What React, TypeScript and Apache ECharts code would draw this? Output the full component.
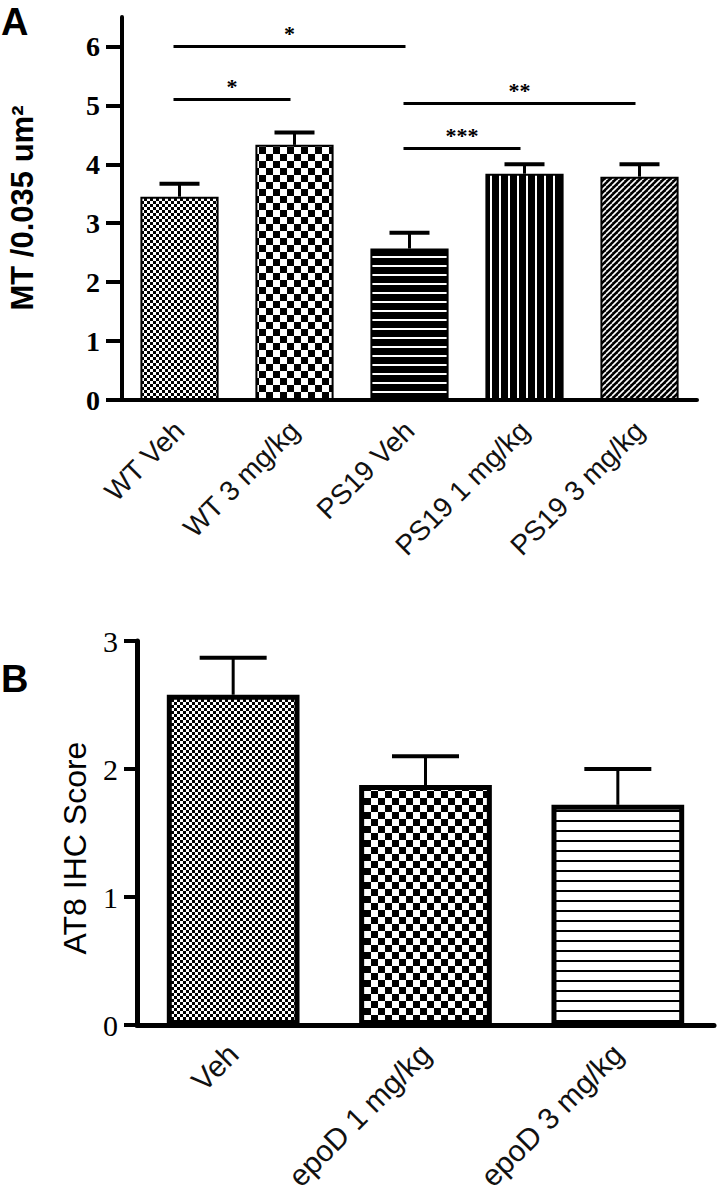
import React, { useEffect, useRef } from 'react';
import * as echarts from 'echarts';

// ---- Panel A data ----
const catsA = ['WT Veh', 'WT 3 mg/kg', 'PS19 Veh', 'PS19 1 mg/kg', 'PS19 3 mg/kg'];
const meansA = [3.45, 4.33, 2.57, 3.84, 3.79];
const semA = [0.22, 0.21, 0.27, 0.16, 0.21];
const ticksA = [0, 1, 2, 3, 4, 5, 6];
const sigFrom = [0, 0, 2, 2];
const sigTo = [1, 2, 3, 4];
const sigLevel = [5.1, 6.0, 4.27, 5.03];
const sigText = ['*', '*', '***', '**'];

// ---- Panel B data ----
const catsB = ['Veh', 'epoD 1 mg/kg', 'epoD 3 mg/kg'];
const meansB = [2.58, 1.875, 1.72];
const semB = [0.29, 0.225, 0.28];
const ticksB = [0, 1, 2, 3];

function makePattern(w: number, h: number, bg: string, draw: (ctx: CanvasRenderingContext2D) => void) {
  const c = document.createElement('canvas');
  c.width = w;
  c.height = h;
  const ctx = c.getContext('2d') as CanvasRenderingContext2D;
  ctx.fillStyle = bg;
  ctx.fillRect(0, 0, w, h);
  ctx.fillStyle = '#000';
  ctx.strokeStyle = bg === '#000' ? '#fff' : '#000';
  draw(ctx);
  return { image: c, repeat: 'repeat', imageWidth: w, imageHeight: h } as any;
}

export default function App() {
  const ref = useRef<HTMLDivElement>(null);
  useEffect(() => {
    if (!ref.current) return;
    const chart = echarts.init(ref.current, null as any, { renderer: 'svg' });

    const fine = makePattern(6, 6, '#fff', (ctx) => {
      ctx.fillRect(0, 0, 3, 3);
      ctx.fillRect(3, 3, 3, 3);
    });
    const checker = makePattern(14, 14, '#fff', (ctx) => {
      ctx.fillRect(0, 0, 7, 7);
      ctx.fillRect(7, 7, 7, 7);
    });
    const hWhite = makePattern(4, 9, '#000', (ctx) => {
      ctx.fillStyle = '#fff';
      ctx.fillRect(0, 4, 4, 2);
    });
    const vWhite = makePattern(9, 4, '#000', (ctx) => {
      ctx.fillStyle = '#fff';
      ctx.fillRect(4, 0, 2, 4);
    });
    const diag = makePattern(6, 6, '#000', (ctx) => {
      ctx.lineWidth = 1.6;
      for (const k of [-6, 0, 6]) {
        ctx.beginPath();
        ctx.moveTo(k, 6);
        ctx.lineTo(k + 6, 0);
        ctx.stroke();
      }
    });
    const hBlack = makePattern(4, 10, '#fff', (ctx) => {
      ctx.fillRect(0, 0, 4, 2);
    });

    const patA = [fine, checker, hWhite, vWhite, diag];
    const patB = [fine, checker, hBlack];

    const serif = 'Liberation Serif';
    const sans = 'Liberation Sans';

    const errRender = (capW: number, stemW: number, capLW: number) => (params: any, api: any) => {
      const base = api.coord([api.value(0), api.value(1)]);
      const top = api.coord([api.value(0), api.value(2)]);
      const hw = capW / 2;
      return {
        type: 'group',
        children: [
          { type: 'line', shape: { x1: base[0], y1: base[1], x2: top[0], y2: top[1] }, style: { stroke: '#000', lineWidth: stemW } },
          { type: 'line', shape: { x1: top[0] - hw, y1: top[1], x2: top[0] + hw, y2: top[1] }, style: { stroke: '#000', lineWidth: capLW } },
        ],
      };
    };

    const option: any = {
      animation: false,
      backgroundColor: '#fff',
      grid: [
        { left: 122, width: 575, top: 17, height: 383, containLabel: false, outerBoundsMode: 'none' },
        { left: 137, width: 577, top: 641, height: 384, containLabel: false, outerBoundsMode: 'none' },
      ],
      xAxis: [
        {
          type: 'category', gridIndex: 0, data: catsA,
          axisLine: { lineStyle: { color: '#000', width: 4 } },
          axisTick: { alignWithLabel: true, length: 13, lineStyle: { color: '#000', width: 4 } },
          axisLabel: { rotate: 45, margin: 26, fontSize: 28, fontFamily: sans, color: '#111', interval: 0 },
        },
        {
          type: 'category', gridIndex: 1, data: catsB,
          axisLine: { lineStyle: { color: '#000', width: 5 } },
          axisTick: { alignWithLabel: true, length: 14, lineStyle: { color: '#000', width: 4 } },
          axisLabel: { rotate: 45, margin: 24, fontSize: 30, fontFamily: sans, color: '#111', interval: 0 },
        },
      ],
      yAxis: [
        {
          type: 'value', gridIndex: 0, min: 0, max: 6.5,
          axisLine: { show: true, lineStyle: { color: '#000', width: 4 } },
          axisTick: { show: true, length: 16, lineStyle: { color: '#000', width: 4 }, customValues: ticksA },
          axisLabel: { margin: 22, fontSize: 28, fontWeight: 'bold', fontFamily: serif, color: '#000', customValues: ticksA },
          splitLine: { show: false },
        },
        {
          type: 'value', gridIndex: 1, min: 0, max: 3, interval: 1,
          axisLine: { show: true, lineStyle: { color: '#000', width: 5 } },
          axisTick: { show: true, length: 13, lineStyle: { color: '#000', width: 4 }, customValues: ticksB },
          axisLabel: { margin: 19, fontSize: 30, fontFamily: serif, color: '#000', customValues: ticksB },
          splitLine: { show: false },
        },
      ],
      series: [
        {
          type: 'bar', xAxisIndex: 0, yAxisIndex: 0, barWidth: '68%',
          data: meansA.map((v, i) => ({ value: v, itemStyle: { color: patA[i], borderColor: '#000', borderWidth: 2 } })),
          z: 2,
        },
        {
          type: 'custom', xAxisIndex: 0, yAxisIndex: 0, z: 3,
          data: meansA.map((m, i) => [i, m, m + semA[i]]),
          renderItem: errRender(40, 3, 4),
        },
        {
          type: 'custom', xAxisIndex: 0, yAxisIndex: 0, z: 3,
          data: sigLevel.map((lv, i) => [sigFrom[i], sigTo[i], lv]),
          renderItem: (params: any, api: any) => {
            const a = api.coord([api.value(0), api.value(2)]);
            const b = api.coord([api.value(1), api.value(2)]);
            return {
              type: 'group',
              children: [
                { type: 'line', shape: { x1: a[0] - 6, y1: a[1], x2: b[0] - 4, y2: b[1] }, style: { stroke: '#000', lineWidth: 3 } },
                {
                  type: 'text',
                  style: {
                    text: sigText[params.dataIndex], x: (a[0] + b[0]) / 2 - 5, y: a[1] - 2,
                    align: 'center', verticalAlign: 'bottom', fill: '#000',
                    fontSize: 22, fontWeight: 'bold', fontFamily: serif,
                  },
                },
              ],
            };
          },
        },
        {
          type: 'bar', xAxisIndex: 1, yAxisIndex: 1, barWidth: '69%',
          data: meansB.map((v, i) => ({ value: v, itemStyle: { color: patB[i], borderColor: '#000', borderWidth: 5 } })),
          z: 2,
        },
        {
          type: 'custom', xAxisIndex: 1, yAxisIndex: 1, z: 3,
          data: meansB.map((m, i) => [i, m, m + semB[i]]),
          renderItem: errRender(67, 3, 4),
        },
      ],
      graphic: [
        { type: 'text', x: 1, y: 3, style: { text: 'A', fontSize: 38, fontWeight: 'bold', fontFamily: sans, fill: '#000', align: 'left', verticalAlign: 'top' } },
        { type: 'text', x: 1, y: 660, style: { text: 'B', fontSize: 38, fontWeight: 'bold', fontFamily: sans, fill: '#000', align: 'left', verticalAlign: 'top' } },
        { type: 'text', x: 22, y: 208, rotation: Math.PI / 2, style: { text: 'MT /0.035 um²', fontSize: 31, fontWeight: 'bold', fontFamily: sans, fill: '#000', align: 'center', verticalAlign: 'middle' } },
        { type: 'text', x: 75, y: 848, rotation: Math.PI / 2, style: { text: 'AT8 IHC Score', fontSize: 32, fontFamily: sans, fill: '#000', align: 'center', verticalAlign: 'middle' } },
      ],
    };
    chart.setOption(option);
    return () => chart.dispose();
  }, []);
  return <div ref={ref} style={{ position: 'absolute', left: 0, top: 0, width: 719, height: 1199 }} />;
}
